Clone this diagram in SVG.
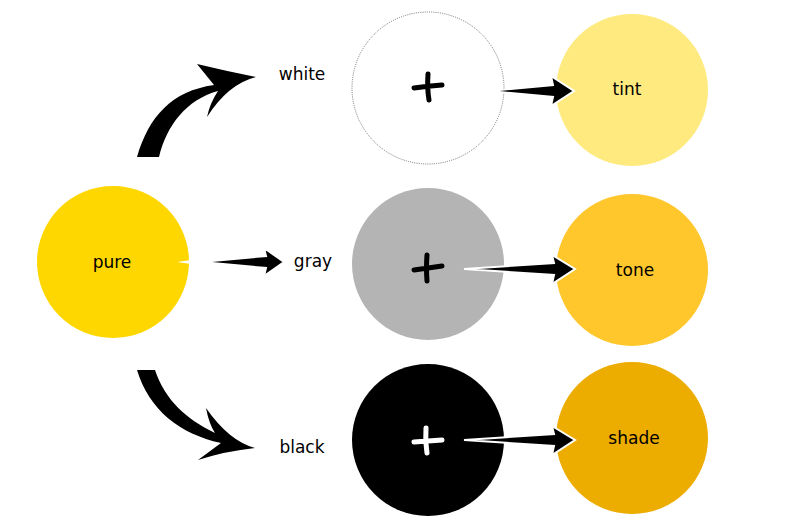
<svg xmlns="http://www.w3.org/2000/svg" width="800" height="530" viewBox="0 0 800 530">
<style>
  .lbl { font-family: "DejaVu Sans", "Liberation Sans", sans-serif; font-size: 17px; fill: #000; text-anchor: middle; }
  .plus { fill: none; stroke-width: 5; stroke-linecap: round; }
  .arr { fill: #000; stroke: #fff; stroke-width: 2; stroke-linejoin: miter; }
  .curve { fill: #000; stroke: none; }
</style>
<rect width="800" height="530" fill="#fff"/>
<g id="pure">
  <circle cx="113" cy="262" r="76" fill="#FFD700"/>
  <text class="lbl" x="112" y="268">pure</text>
</g>
<g id="white-mix">
  <circle cx="428" cy="88" r="76" fill="#fff" stroke="#555" stroke-width="0.8" stroke-dasharray="1 1.2"/>
  <path class="plus" stroke="#000" d="M414 88 Q428 86 442 85 M428 74 Q427 88 429 100"/>
</g>
<g id="tint">
  <circle cx="632" cy="90" r="76" fill="#FEEA7F"/>
  <text class="lbl" x="627" y="95">tint</text>
</g>
<g id="gray-mix">
  <circle cx="428" cy="264" r="76" fill="#B4B4B4"/>
  <path class="plus" stroke="#000" d="M414 270 Q428 268 442 266 M427 255 Q426 268 427 281"/>
</g>
<g id="tone">
  <circle cx="632" cy="270" r="76" fill="#FFC72C"/>
  <text class="lbl" x="635" y="276">tone</text>
</g>
<g id="black-mix">
  <circle cx="428" cy="440" r="76" fill="#000"/>
  <path class="plus" stroke="#fff" d="M414 442 Q428 441 442 440 M426 428 Q425 441 427 453"/>
</g>
<g id="shade">
  <circle cx="632" cy="438" r="76" fill="#ECAC00"/>
  <text class="lbl" x="634" y="444">shade</text>
</g>
<g id="labels">
  <text class="lbl" x="302" y="80">white</text>
  <text class="lbl" x="313" y="267">gray</text>
  <text class="lbl" x="302" y="453">black</text>
</g>
<g id="connectors">
  <path class="curve" d="M137 157 C149 116 172 91 214 85 L197 64 Q226 71 256 77 Q228 84 207 117 Q210 103 218 91 C186 100 167 125 159 157 Z"/>
  <path class="curve" d="M137 370 C149 410 180 434 221 443 L198 460 Q226 451 255 448 Q229 441 206 408 Q209 424 215 433 C186 419 165 400 155 370 Z"/>
  <polygon points="177,262 191,260 191,264" fill="#fff"/>
  <polygon class="arr" stroke="none" points="201,262 266,256 264,248 284,262 264,276 266,268"/>
  <polygon class="arr" points="489,91 553,85 551,76 574,91 551,106 553,97"/>
  <polygon class="arr" points="464,269 554,263 552,255 575,269 552,284 554,275"/>
  <polygon class="arr" points="464,440 554,434 552,426 575,440 552,455 554,446"/>
</g>
</svg>
